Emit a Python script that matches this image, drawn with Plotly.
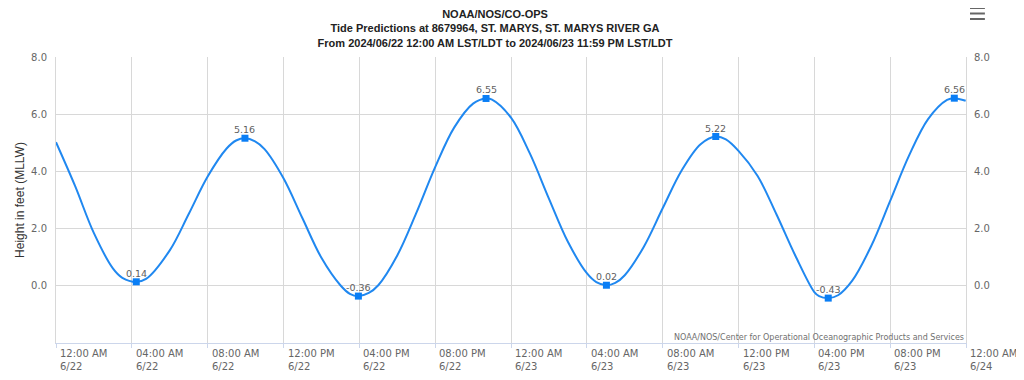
import plotly.graph_objects as go

# ---- data ----
curve_times = [
    "2024-06-22 00:00", "2024-06-22 01:00", "2024-06-22 02:00", "2024-06-22 03:00",
    "2024-06-22 03:30", "2024-06-22 04:14", "2024-06-22 04:45", "2024-06-22 06:00",
    "2024-06-22 07:00", "2024-06-22 08:00", "2024-06-22 09:00", "2024-06-22 09:30",
    "2024-06-22 09:58", "2024-06-22 10:30", "2024-06-22 11:00", "2024-06-22 12:00",
    "2024-06-22 13:00", "2024-06-22 14:00", "2024-06-22 15:00", "2024-06-22 15:30",
    "2024-06-22 15:57", "2024-06-22 16:30", "2024-06-22 17:00", "2024-06-22 18:00",
    "2024-06-22 19:00", "2024-06-22 20:00", "2024-06-22 21:00", "2024-06-22 22:00",
    "2024-06-22 22:41", "2024-06-22 23:00", "2024-06-23 00:00", "2024-06-23 01:00",
    "2024-06-23 02:00", "2024-06-23 03:00", "2024-06-23 04:00", "2024-06-23 04:30",
    "2024-06-23 05:02", "2024-06-23 05:30", "2024-06-23 06:00", "2024-06-23 07:00",
    "2024-06-23 08:00", "2024-06-23 09:00", "2024-06-23 10:00", "2024-06-23 10:48",
    "2024-06-23 11:20", "2024-06-23 12:00", "2024-06-23 13:00", "2024-06-23 14:00",
    "2024-06-23 15:00", "2024-06-23 16:00", "2024-06-23 16:15", "2024-06-23 16:44",
    "2024-06-23 17:15", "2024-06-23 18:00", "2024-06-23 19:00", "2024-06-23 20:00",
    "2024-06-23 21:00", "2024-06-23 22:00", "2024-06-23 23:00", "2024-06-23 23:23",
    "2024-06-23 23:59",
]
curve_values = [
    5.02, 3.50, 1.84, 0.61,
    0.28, 0.14, 0.24, 1.24,
    2.51, 3.82, 4.80, 5.08,
    5.16, 5.05, 4.78, 3.76,
    2.36, 0.98, 0.02, -0.28,
    -0.36, -0.25, 0.02, 1.06,
    2.54, 4.15, 5.53, 6.37,
    6.55, 6.51, 5.88, 4.62,
    3.05, 1.54, 0.44, 0.13,
    0.02, 0.10, 0.37, 1.36,
    2.71, 4.03, 4.95, 5.22,
    5.12, 4.72, 3.85, 2.50,
    1.05, -0.22, -0.36, -0.43,
    -0.33, 0.18, 1.39, 2.97,
    4.56, 5.83, 6.50, 6.56,
    6.47,
]

hilo_times = [
    "2024-06-22 04:14", "2024-06-22 09:58", "2024-06-22 15:57", "2024-06-22 22:41",
    "2024-06-23 05:02", "2024-06-23 10:48", "2024-06-23 16:44", "2024-06-23 23:23",
]
hilo_values = [0.14, 5.16, -0.36, 6.55, 0.02, 5.22, -0.43, 6.56]

tick_times = [
    "2024-06-22 00:00", "2024-06-22 04:00", "2024-06-22 08:00", "2024-06-22 12:00",
    "2024-06-22 16:00", "2024-06-22 20:00", "2024-06-23 00:00", "2024-06-23 04:00",
    "2024-06-23 08:00", "2024-06-23 12:00", "2024-06-23 16:00", "2024-06-23 20:00",
    "2024-06-24 00:00",
]
tick_hours = ["12:00 AM", "04:00 AM", "08:00 AM", "12:00 PM", "04:00 PM", "08:00 PM",
              "12:00 AM", "04:00 AM", "08:00 AM", "12:00 PM", "04:00 PM", "08:00 PM",
              "12:00 AM"]
tick_dates = ["6/22", "6/22", "6/22", "6/22", "6/22", "6/22",
              "6/23", "6/23", "6/23", "6/23", "6/23", "6/23", "6/24"]

y_ticks = [0, 2, 4, 6, 8]
y_range = [-2, 8]
x_range = ["2024-06-22 00:00", "2024-06-24 00:00"]

title_lines = [
    "NOAA/NOS/CO-OPS",
    "Tide Predictions at 8679964, ST. MARYS, ST. MARYS RIVER GA",
    "From 2024/06/22 12:00 AM LST/LDT to 2024/06/23 11:59 PM LST/LDT",
]
y_title = "Height in feet (MLLW)"
credit_text = "NOAA/NOS/Center for Operational Oceanographic Products and Services"

# ---- styles ----
LINE_COLOR = "#2088f0"
MARK_COLOR = "#0a7ef5"
GRID = "#d8d8d8"
SANS2 = "DejaVu Sans, Verdana, sans-serif"
TICK_FONT = dict(family=SANS2, size=10, color="#666666")

# page body has an 8px margin; figure is sized so the plot area lands where the reference has it
W, H = 1016, 372
ML, MR, MT, MB = 43, 58, 49, 37
PW, PH = W - ML - MR, H - MT - MB

fig = go.Figure()

fig.add_trace(go.Scatter(
    x=curve_times, y=curve_values, mode="lines",
    line=dict(color=LINE_COLOR, width=2, shape="spline", smoothing=1.0),
    hoverinfo="skip", showlegend=False,
))
fig.add_trace(go.Scatter(
    x=hilo_times, y=hilo_values, mode="markers",
    marker=dict(symbol="square", size=7, color=MARK_COLOR),
    showlegend=False, cliponaxis=False,
))
# right-hand mirror axis
fig.add_trace(go.Scatter(
    x=hilo_times, y=hilo_values, mode="markers", yaxis="y2",
    marker=dict(opacity=0), hoverinfo="skip", showlegend=False,
))

annotations = []
for t, v in zip(hilo_times, hilo_values):
    annotations.append(dict(
        x=t, y=v, xref="x", yref="y", xanchor="center", yanchor="bottom",
        showarrow=False, yshift=1, text=f"{v:.2f}",
        font=dict(family=SANS2, size=9.5, color="#606060"),
    ))
for t, h, d in zip(tick_times, tick_hours, tick_dates):
    annotations.append(dict(
        x=t, y=0, xref="x", yref="paper", xanchor="left", yanchor="top",
        align="left", showarrow=False, xshift=2, yshift=-3,
        text=f"{h}<br>{d}", font=TICK_FONT,
    ))
annotations.append(dict(
    x=1, y=0, xref="paper", yref="paper", xanchor="right", yanchor="bottom",
    showarrow=False, text=credit_text, yshift=-1,
    font=dict(family=SANS2, size=8, color="#707070"),
))

# export-menu (hamburger) icon, top right
shapes = []
for k in range(3):
    top = 7 + 5.5 * k - 8          # page px from top, minus body margin
    shapes.append(dict(
        type="rect", xref="paper", yref="paper",
        x0=(970 - 8 - ML) / PW, x1=(985 - 8 - ML) / PW,
        y0=(MT + PH - top - 2) / PH, y1=(MT + PH - top) / PH,
        line=dict(width=0), fillcolor="#666666",
    ))

fig.update_layout(
    width=W, height=H,
    margin=dict(l=ML, r=MR, t=MT, b=MB),
    paper_bgcolor="white", plot_bgcolor="white",
    title=dict(
        text="<br>".join(f"<b>{s}</b>" for s in title_lines),
        x=(495 - 8) / W, xref="container", xanchor="center",
        y=1 - 10 / H, yref="container", yanchor="top",
        font=dict(family="Liberation Sans, Arial, sans-serif", size=11, color="#222222"),
    ),
    xaxis=dict(
        type="date", range=x_range, tickvals=tick_times, showticklabels=False,
        showgrid=True, gridcolor=GRID, gridwidth=1,
        showline=True, linecolor="#ccd6eb", linewidth=1,
        ticks="outside", ticklen=4, tickcolor="#ccd6eb",
        zeroline=False, fixedrange=True,
    ),
    yaxis=dict(
        range=y_range, tickvals=y_ticks, tickformat=".1f",
        showgrid=True, gridcolor=GRID, gridwidth=1, zeroline=False,
        showline=True, linecolor=GRID, ticks="", ticklabelstandoff=6,
        tickfont=TICK_FONT,
        title=dict(text=y_title, standoff=3,
                   font=dict(family="Liberation Sans, Arial, sans-serif", size=12, color="#333333")),
    ),
    yaxis2=dict(
        range=y_range, tickvals=y_ticks, tickformat=".1f", overlaying="y", side="right",
        showgrid=False, zeroline=False, showline=True, linecolor=GRID, ticks="",
        ticklabelstandoff=5, tickfont=TICK_FONT,
    ),
    annotations=annotations,
    shapes=shapes,
    hovermode=False,
)

fig.write_html("out.html")
